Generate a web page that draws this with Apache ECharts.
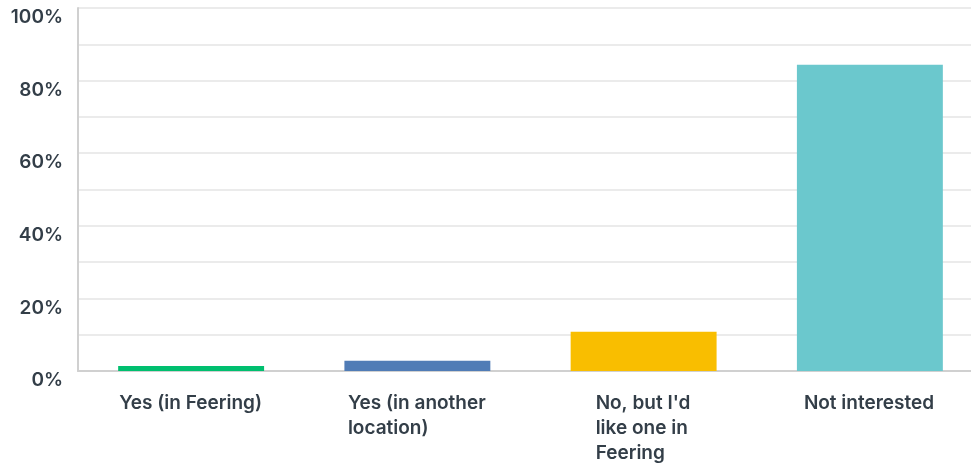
<!DOCTYPE html>
<html>
<head>
<meta charset="utf-8">
<script src="https://cdn.jsdelivr.net/npm/echarts@6/dist/echarts.min.js"></script>
<style>html,body{margin:0;padding:0;background:#fff;overflow:hidden}#c{width:983px;height:466px}</style>
</head>
<body>
<div id="c"></div>
<script>
var categories = ["Yes (in Feering)", "Yes (in another\nlocation)", "No, but I'd\nlike one in\nFeering", "Not interested"];
var values = [1.4, 2.8, 10.8, 84.4];
var barColors = ["#00BF6F", "#507CB6", "#F9BE00", "#6BC8CD"];
var yTicks = [0, 20, 40, 60, 80, 100];

var FONT = "Inter";
var FONT_SIZE = 19;
var FONT_WEIGHT = 600;
var TEXT_COLOR = "#333E48";

var ctx = document.createElement('canvas').getContext('2d');
ctx.font = FONT_WEIGHT + ' ' + FONT_SIZE + 'px ' + FONT;
function blockWidth(s) {
  return Math.max.apply(null, s.split('\n').map(function (l) { return ctx.measureText(l).width; }));
}

var rich = {};
var xData = categories.map(function (c, i) {
  rich['r' + i] = { width: Math.ceil(blockWidth(c)) + 1, align: 'left', fontFamily: FONT, fontSize: FONT_SIZE, fontWeight: FONT_WEIGHT, color: TEXT_COLOR, lineHeight: 25 };
  return c;
});

var chart = echarts.init(document.getElementById('c'), null, { renderer: 'canvas' });
chart.setOption({
  animation: false,
  grid: { left: 78, top: 8, bottom: 95, right: 0, containLabel: false },
  xAxis: {
    type: 'category',
    data: xData,
    axisTick: { show: false },
    axisLine: { show: true, lineStyle: { color: '#D0D0D0', width: 2 } },
    axisLabel: {
      interval: 0,
      margin: 20,
      verticalAlign: 'top',
      formatter: function (v, i) {
        return v.split('\n').map(function (l) { return '{r' + i + '|' + l + '}'; }).join('\n');
      },
      rich: rich
    }
  },
  yAxis: {
    type: 'value',
    min: 0,
    max: 100,
    interval: 10,
    axisLine: { show: true, lineStyle: { color: '#D0D0D0', width: 2 } },
    axisTick: { show: false },
    splitLine: { show: true, lineStyle: { color: '#EBEBEB', width: 2 } },
    axisLabel: {
      margin: 15,
      fontFamily: FONT,
      fontSize: FONT_SIZE,
      fontWeight: FONT_WEIGHT,
      color: TEXT_COLOR,
      verticalAlign: 'top',
      formatter: function (v) { return yTicks.indexOf(v) >= 0 ? v + '%' : ''; }
    }
  },
  series: [{
    type: 'bar',
    data: values.map(function (v, i) { return { value: v, itemStyle: { color: barColors[i] } }; }),
    barWidth: '64.5%'
  }]
});
</script>
</body>
</html>
